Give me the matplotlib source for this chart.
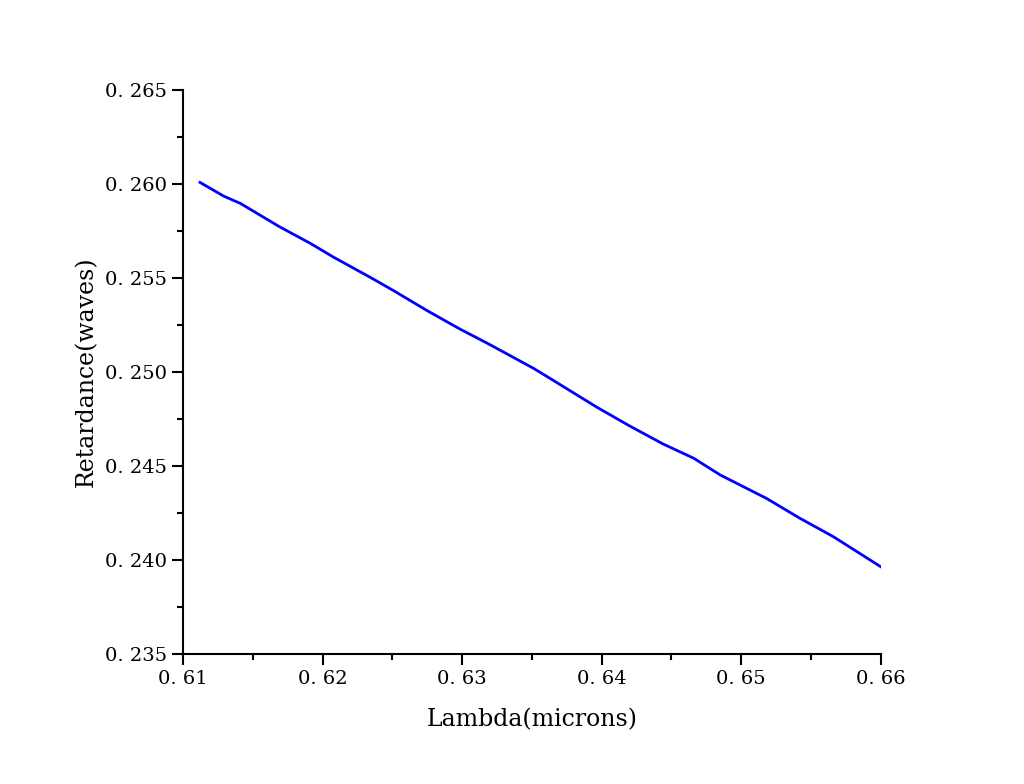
import matplotlib
matplotlib.use("Agg")
import matplotlib.pyplot as plt
from matplotlib.ticker import MultipleLocator, FuncFormatter

# values
wavelength = [0.6112, 0.6129, 0.6141, 0.6169, 0.6191, 0.6208, 0.6234,
              0.6251, 0.6275, 0.6298, 0.6318, 0.6351, 0.6361, 0.6396,
              0.6420, 0.6444, 0.6466, 0.6485, 0.6518, 0.6542, 0.6566,
              0.6600]
retardance = [0.26009, 0.25936, 0.25897, 0.25773, 0.25685, 0.25610, 0.25504,
              0.25432, 0.25326, 0.25230, 0.25153, 0.25020, 0.24975, 0.24815,
              0.24713, 0.24617, 0.24541, 0.24452, 0.24328, 0.24222, 0.24124,
              0.23964]

plt.rcParams['font.family'] = ['DejaVu Serif']

fig = plt.figure(figsize=(10.24, 7.84), dpi=100)
ax = fig.add_axes([0.179, 0.166, 0.681, 0.719])

ax.plot(wavelength, retardance, color='#0000ff', linewidth=2)

ax.set_xlim(0.61, 0.66)
ax.set_ylim(0.235, 0.265)
ax.xaxis.set_major_locator(MultipleLocator(0.01))
ax.xaxis.set_minor_locator(MultipleLocator(0.005))
ax.yaxis.set_major_locator(MultipleLocator(0.005))
ax.yaxis.set_minor_locator(MultipleLocator(0.0025))
ax.xaxis.set_major_formatter(FuncFormatter(lambda v, p: f"{v:.2f}".replace(".", ". ")))
ax.yaxis.set_major_formatter(FuncFormatter(lambda v, p: f"{v:.3f}".replace(".", ". ")))

for side in ['top', 'right']:
    ax.spines[side].set_visible(False)
for side in ['left', 'bottom']:
    ax.spines[side].set_linewidth(1.5)

ax.tick_params(which='major', direction='out', length=8, width=1.5, labelsize=14)
ax.tick_params(which='minor', direction='out', length=4, width=1.5)

ax.set_xlabel("Lambda(microns)", fontsize=17, labelpad=15)
ax.set_ylabel("Retardance(waves)", fontsize=17, labelpad=5)

fig.savefig("out.png", dpi=100)
